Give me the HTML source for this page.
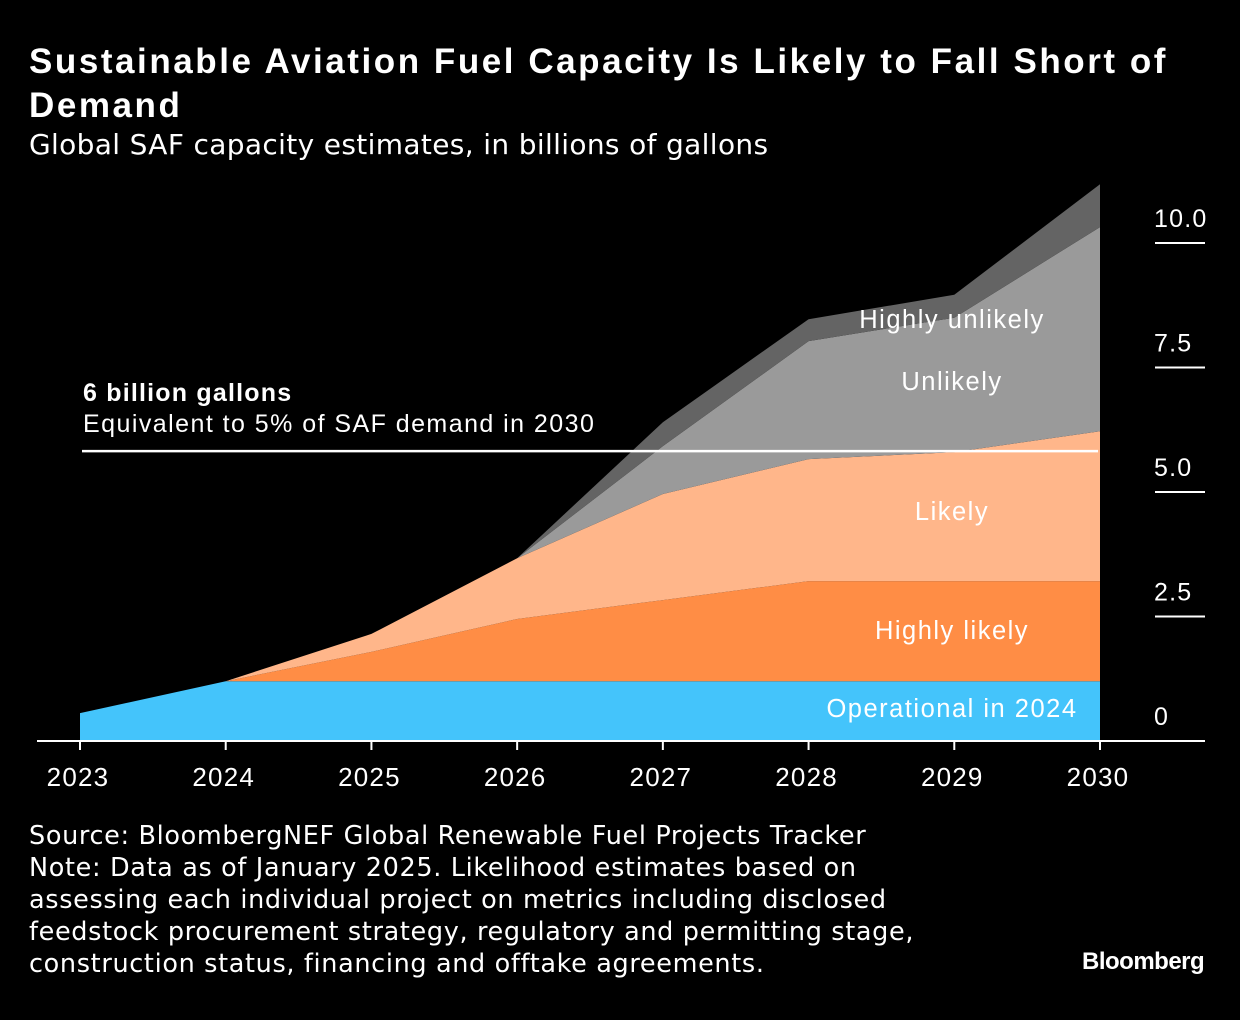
<!DOCTYPE html>
<html><head><meta charset="utf-8"><style>
html,body{margin:0;padding:0;background:#000;}
body{width:1240px;height:1020px;position:relative;overflow:hidden;font-family:"Liberation Sans","DejaVu Sans",sans-serif;color:#fff;}
.title{position:absolute;left:29px;top:40px;font-size:35px;font-weight:bold;line-height:44px;letter-spacing:2.55px;width:1190px;}
.sub{position:absolute;left:29px;top:128px;font-size:28px;font-family:"DejaVu Sans",sans-serif;letter-spacing:0.35px;}
.foot{position:absolute;left:29px;top:820px;font-size:25.5px;line-height:32px;font-family:"DejaVu Sans",sans-serif;letter-spacing:0.65px;}
.logo{position:absolute;left:1082px;top:948px;font-size:24px;font-weight:bold;letter-spacing:-0.5px;}
svg{position:absolute;left:0;top:0;}
svg text{letter-spacing:1.2px;}
</style></head><body>
<div class="title">Sustainable Aviation Fuel Capacity Is Likely to Fall Short of Demand</div>
<div class="sub">Global SAF capacity estimates, in billions of gallons</div>
<svg id="chart" width="1240" height="1020"></svg>
<div class="foot">Source: BloombergNEF Global Renewable Fuel Projects Tracker<br>Note: Data as of January 2025. Likelihood estimates based on<br>assessing each individual project on metrics including disclosed<br>feedstock procurement strategy, regulatory and permitting stage,<br>construction status, financing and offtake agreements.</div>
<div class="logo">Bloomberg</div>
<script>
const years = [2023,2024,2025,2026,2027,2028,2029,2030];
const operational   = [0.56,1.2,1.2,1.2,1.2,1.2,1.2,1.2];
const highlyLikely  = [0,0,0.59,1.25,1.63,2.01,2.01,2.01];
const likely        = [0,0,0.36,1.22,2.13,2.45,2.59,3.01];
const unlikely      = [0,0,0,0,0.96,2.37,2.7,4.1];
const highlyUnlikely= [0,0,0,0,0.48,0.44,0.46,0.86];
const yTicks = [0,2.5,5,7.5,10];
const yTickLabels = ["0","2.5","5.0","7.5","10.0"];
const refValue = 5.82;

const svg = document.getElementById('chart');
const NS = 'http://www.w3.org/2000/svg';
const x = yr => 80 + (yr-2023)*(1020/7);
const y = v => 741 - v*49.8;
function mk(tag, attrs){const e=document.createElementNS(NS,tag);for(const k in attrs)e.setAttribute(k,attrs[k]);svg.appendChild(e);return e;}

const series = [
 {name:'operational', data:operational, color:'#44c4fb'},
 {name:'highly-likely', data:highlyLikely, color:'#ff8d45'},
 {name:'likely', data:likely, color:'#ffb68a'},
 {name:'unlikely', data:unlikely, color:'#9a9a9a'},
 {name:'highly-unlikely', data:highlyUnlikely, color:'#646464'}
];
let base = years.map(()=>0);
series.forEach(s=>{
  const top = base.map((b,i)=>b+s.data[i]);
  let d = 'M'+years.map((yr,i)=>x(yr)+','+y(top[i])).join(' L');
  for(let i=years.length-1;i>=0;i--) d+=' L'+x(years[i])+','+y(base[i]);
  d+=' Z';
  const p = mk('path',{d:d,fill:s.color});
  
  
  base = top;
});

const rl = mk('line',{x1:82,x2:1098,y1:y(refValue),y2:y(refValue),stroke:'#fff','stroke-width':2.5});


const rt1 = mk('text',{x:83,y:401,fill:'#fff','font-size':25,'font-weight':'bold'}); rt1.textContent='6 billion gallons';


const rt2 = mk('text',{x:83,y:432,fill:'#fff','font-size':25}); rt2.textContent='Equivalent to 5% of SAF demand in 2030';
rt2.style.letterSpacing = '1.45px';



const ax = mk('line',{x1:37,x2:1205,y1:741,y2:741,stroke:'#fff','stroke-width':2});


years.forEach(yr=>{
  const t = mk('line',{x1:x(yr),x2:x(yr),y1:741,y2:750,stroke:'#fff','stroke-width':2});
  
  
  const l = mk('text',{x:x(yr)-2,y:786,fill:'#fff','font-size':26,'text-anchor':'middle'});
  l.textContent = yr;
  
  
});
yTicks.forEach((v,i)=>{
  if(v>0){
    const t = mk('line',{x1:1155,x2:1205,y1:y(v),y2:y(v),stroke:'#fff','stroke-width':2});
    
    
  }
  const l = mk('text',{x:1154,y:y(v)-16,fill:'#fff','font-size':25});
  l.textContent = yTickLabels[i];
  if(v===0) l.setAttribute('y', 725);
  
  
});
const labels = [['Highly unlikely',328,'label-highly-unlikely'],['Unlikely',390,'label-unlikely'],['Likely',520,'label-likely'],['Highly likely',639,'label-highly-likely'],['Operational in 2024',717,'label-operational']];
labels.forEach(a=>{
  const l = mk('text',{x:952,y:a[1],fill:'#fff','font-size':25.5,'text-anchor':'middle'});
  l.textContent = a[0];
  
  
  l.style.letterSpacing = '1.5px';
});
</script>
</body></html>
